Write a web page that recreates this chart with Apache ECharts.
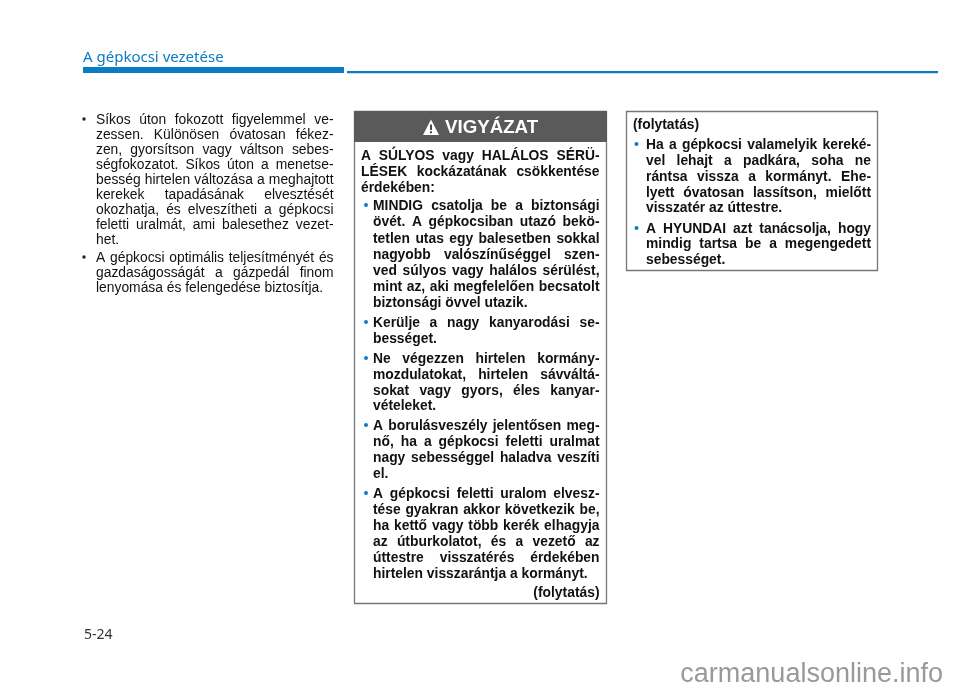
<!DOCTYPE html>
<html><head><meta charset="utf-8">
<style>html,body{margin:0;padding:0;background:#fff}#c{width:960px;height:689px}</style>
<script src="https://cdn.jsdelivr.net/npm/echarts@6/dist/echarts.min.js"></script></head>
<body><div id="c"></div>
<script>
var sectionTitle = "A gépkocsi vezetése";
var pageNumber = "5-24";
var warningTitle = "VIGYÁZAT";
var watermark = "carmanualsonline.info";
// each line: [text, justified?, bullet?]
var leftLines = [
 ["Síkos úton fokozott figyelemmel ve-",1,1],["zessen. Különösen óvatosan fékez-",1],["zen, gyorsítson vagy váltson sebes-",1],
 ["ségfokozatot. Síkos úton a menetse-",1],["besség hirtelen változása a meghajtott",1],["kerekek tapadásának elvesztését",1],
 ["okozhatja, és elveszítheti a gépkocsi",1],["feletti uralmát, ami balesethez vezet-",1],["het.",0],
 ["A gépkocsi optimális teljesítményét és",1,1],["gazdaságosságát a gázpedál finom",1],["lenyomása és felengedése biztosítja.",0]
];
var leftY = [119,134,149,164,179,194,209,224,239,257,272,287];
var midIntro = [["A SÚLYOS vagy HALÁLOS SÉRÜ-",1],["LÉSEK kockázatának csökkentése",1],["érdekében:",0]];
var midIntroY = [155,171,187];
var midLines = [
 ["MINDIG csatolja be a biztonsági",1,1],["övét. A gépkocsiban utazó bekö-",1],["tetlen utas egy balesetben sokkal",1],["nagyobb valószínűséggel szen-",1],
 ["ved súlyos vagy halálos sérülést,",1],["mint az, aki megfelelően becsatolt",1],["biztonsági övvel utazik.",0],
 ["Kerülje a nagy kanyarodási se-",1,1],["bességet.",0],
 ["Ne végezzen hirtelen kormány-",1,1],["mozdulatokat, hirtelen sávváltá-",1],["sokat vagy gyors, éles kanyar-",1],["vételeket.",0],
 ["A borulásveszély jelentősen meg-",1,1],["nő, ha a gépkocsi feletti uralmat",1],["nagy sebességgel haladva veszíti",1],["el.",0],
 ["A gépkocsi feletti uralom elvesz-",1,1],["tése gyakran akkor következik be,",1],["ha kettő vagy több kerék elhagyja",1],["az útburkolatot, és a vezető az",1],["úttestre visszatérés érdekében",1],["hirtelen visszarántja a kormányt.",0]
];
var midY = [205,221,238,254,270,286,302,322,338,358,374,390,405,425,441,457,473,493,509,525,541,557,573];
var midEnd = "(folytatás)";
var rightHead = "(folytatás)";
var rightLines = [
 ["Ha a gépkocsi valamelyik kereké-",1,1],["vel lehajt a padkára, soha ne",1],["rántsa vissza a kormányt. Ehe-",1],["lyett óvatosan lassítson, mielőtt",1],["visszatér az úttestre.",0],
 ["A HYUNDAI azt tanácsolja, hogy",1,1],["mindig tartsa be a megengedett",1],["sebességet.",0]
];
var rightY = [144,160,176,192,207,228,243,259];

var BLUE="#0a7cc4", LS="Liberation Sans", DY=0.8;
var BODY={s:13.85,w:"normal",f:LS}, BOLD={s:13.85,w:"bold",f:LS};
var mc=document.createElement("canvas").getContext("2d");
function w(s,f){mc.font=f.w+" "+f.s+"px '"+f.f+"'";return mc.measureText(s).width;}
var els=[];
function rect(x,y,wd,h,fill,stroke,lw){els.push({type:"rect",shape:{x:x,y:y,width:wd,height:h},style:{fill:fill||"none",stroke:stroke||null,lineWidth:lw||0},silent:true});}
function txt(x,y,s,f,col,al){els.push({type:"text",x:x,y:y,style:{text:s,fontFamily:f.f,fontSize:f.s,fontWeight:f.w,fill:col||"#111",align:al||"left",verticalAlign:"middle"},silent:true});}
function dot(x,y,r,col){els.push({type:"circle",shape:{cx:x,cy:y,r:r},style:{fill:col},silent:true});}
function line(x0,x1,y,s,just,f){
  if(!just){txt(x0,y+DY,s,f);return;}
  var ws=s.split(" "),tot=0,i;
  for(i=0;i<ws.length;i++)tot+=w(ws[i],f);
  var gap=(x1-x0-tot)/Math.max(1,ws.length-1),x=x0;
  for(i=0;i<ws.length;i++){txt(x,y+DY,ws[i],f);x+=w(ws[i],f)+gap;}
}
function block(lines,ys,x0,x1,f,bx,bcol,br){
  lines.forEach(function(l,i){
    if(l[2])dot(bx,ys[i],br,bcol);
    line(x0,x1,ys[i],l[0],l[1],f);
  });
}
// header
txt(83,58,sectionTitle,{s:15,w:"normal",f:"Noto Sans"},BLUE);
rect(83,67,261,6,BLUE);
rect(347,71,591,2.2,BLUE);
// left
block(leftLines,leftY,96,333.5,BODY,84,"#222",1.7);
// mid box
rect(354.5,111.5,252,492,"#fff","#777",1.3);
rect(354,111,253,31,"#5a5a5a");
els.push({type:"polygon",shape:{points:[[431,119.5],[439,135],[423,135]]},style:{fill:"#fff"},silent:true});
rect(430.1,124.5,1.8,5.6,"#333");rect(430.1,131.3,1.8,1.9,"#333");
txt(445,128,warningTitle,{s:18.7,w:"bold",f:LS},"#fff");
block(midIntro,midIntroY,361,599.5,BOLD);
block(midLines,midY,373,599.5,BOLD,366,BLUE,2);
txt(599.5,592.8,midEnd,BOLD,"#111","right");
// right box
rect(626.5,111.5,251,159,"#fff","#777",1.3);
txt(633,125.3,rightHead,BOLD);
block(rightLines,rightY,646,871,BOLD,636.5,BLUE,2);
// footer
txt(84,635,pageNumber,{s:14,w:"normal",f:"Noto Sans"},"#333");
txt(943,675,watermark,{s:27,w:"normal",f:LS},"#999","right");
var chart=echarts.init(document.getElementById("c"),null,{renderer:"canvas"});
chart.setOption({animation:false,backgroundColor:"#fff",graphic:{elements:els}});
</script></body></html>
